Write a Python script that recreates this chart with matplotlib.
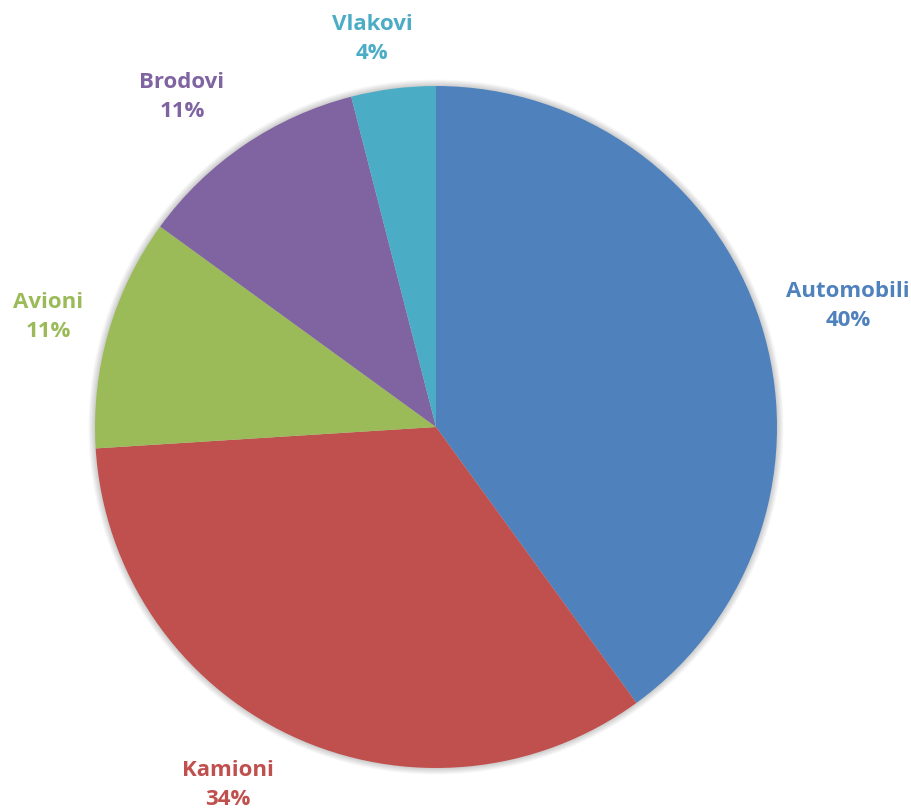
import matplotlib
matplotlib.use('Agg')
import matplotlib.pyplot as plt
from matplotlib.patches import Circle

labels = ['Automobili', 'Kamioni', 'Avioni', 'Brodovi', 'Vlakovi']
shares = [40, 34, 11, 11, 4]
colors = ['#4F81BD', '#C0504D', '#9BBB59', '#8064A2', '#4BACC6']

# label anchor positions in figure pixels (top-left origin)
label_pos = [(848, 306), (228, 785), (48, 317), (182, 97), (372, 39)]

W, H = 912, 811
cx, cy, r = 436, 427, 341

fig = plt.figure(figsize=(W / 100, H / 100), dpi=100)
ax = fig.add_axes([0, 0, 1, 1])

# soft shadow behind the pie
for k in range(8):
    ax.add_patch(Circle((cx, cy), r + 1 + k * 0.8, color='black',
                        alpha=0.025, lw=0, zorder=0))

# y axis is inverted, so counterclock=True runs clockwise on screen
wedges, _ = ax.pie(shares, colors=colors, startangle=-90, counterclock=True,
                   center=(cx, cy), radius=r, frame=True,
                   wedgeprops=dict(linewidth=0))
ax.set_xlim(0, W)
ax.set_ylim(H, 0)
ax.set_aspect('equal')
ax.axis('off')

for name, val, col, (x, y) in zip(labels, shares, colors, label_pos):
    ax.text(x, y, f'{name}\n{val}%', color=col, ha='center', va='center',
            fontsize=16, fontweight='bold', family=['Open Sans', 'DejaVu Sans'],
            linespacing=1.55)

fig.savefig('out.png', dpi=100)
